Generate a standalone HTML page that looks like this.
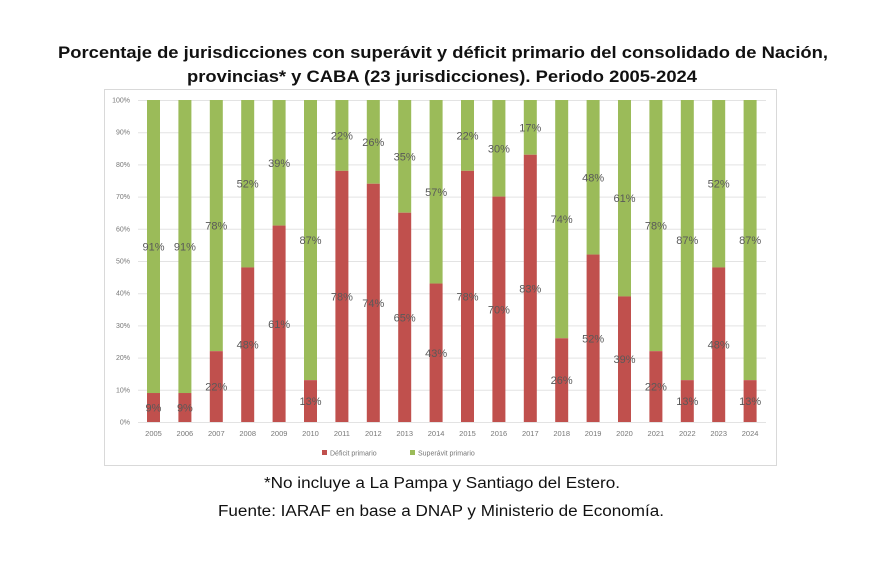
<!DOCTYPE html>
<html><head><meta charset="utf-8"><style>
html,body{margin:0;padding:0;background:#fff;}
svg{display:block;font-family:"Liberation Sans",sans-serif;}
</style></head><body>
<svg width="870" height="580" viewBox="0 0 870 580" xmlns="http://www.w3.org/2000/svg">
<rect width="870" height="580" fill="#fff"/>
<text x="443" y="58" text-anchor="middle" font-size="17" font-weight="bold" fill="#111" textLength="770" lengthAdjust="spacingAndGlyphs">Porcentaje de jurisdicciones con superávit y déficit primario del consolidado de Nación,</text>
<text x="442" y="82" text-anchor="middle" font-size="17" font-weight="bold" fill="#111" textLength="510" lengthAdjust="spacingAndGlyphs">provincias* y CABA (23 jurisdicciones). Periodo 2005-2024</text>
<rect x="104.5" y="89.5" width="672" height="376" fill="#fff" stroke="#d9d9d9"/>
<g id="grid" stroke="#e3e3e3" stroke-width="1"></g>
<g id="ylab" font-size="7" fill="#777" text-anchor="end"></g>
<g id="bars"></g>
<g id="xlab" font-size="7.5" fill="#777" text-anchor="middle"></g>
<rect x="322" y="450" width="5" height="5" fill="#c0504d"/>
<text x="330" y="455.5" font-size="7" fill="#777">Déficit primario</text>
<rect x="410" y="450" width="5" height="5" fill="#9bbb59"/>
<text x="418" y="455.5" font-size="7" fill="#777">Superávit primario</text>
<text x="442" y="488" text-anchor="middle" font-size="15.5" fill="#111" textLength="356" lengthAdjust="spacingAndGlyphs">*No incluye a La Pampa y Santiago del Estero.</text>
<text x="441" y="516" text-anchor="middle" font-size="15.5" fill="#111" textLength="446" lengthAdjust="spacingAndGlyphs">Fuente: IARAF en base a DNAP y Ministerio de Economía.</text>
<script>
var ns="http://www.w3.org/2000/svg";
function el(p,t,a,txt){var e=document.createElementNS(ns,t);for(var k in a)e.setAttribute(k,a[k]);if(txt!==undefined)e.textContent=txt;document.getElementById(p).appendChild(e);}
var y0=422,y100=100,h=y0-y100;
for(var i=0;i<=10;i++){var y=y0-h*i/10;el("grid","line",{x1:138,x2:766,y1:y+0.5,y2:y+0.5});el("ylab","text",{x:130,y:y+2.5},(i*10)+"%");}
var d=[9,9,22,48,61,13,78,74,65,43,78,70,83,26,52,39,22,13,48,13];
for(var j=0;j<20;j++){var cx=153.5+j*31.4,w=13;var yd=y0-h*d[j]/100;
el("bars","rect",{x:cx-w/2,y:y100,width:w,height:yd-y100,fill:"#9bbb59"});
el("bars","rect",{x:cx-w/2,y:yd,width:w,height:y0-yd,fill:"#c0504d"});
el("bars","text",{x:cx,y:(yd+y0)/2+4,"font-size":11,fill:"#595959","text-anchor":"middle"},d[j]+"%");
el("bars","text",{x:cx,y:(yd+y100)/2+4,"font-size":11,fill:"#595959","text-anchor":"middle"},(100-d[j])+"%");
el("xlab","text",{x:cx,y:436},2005+j);}
</script>
</svg>
</body></html>
